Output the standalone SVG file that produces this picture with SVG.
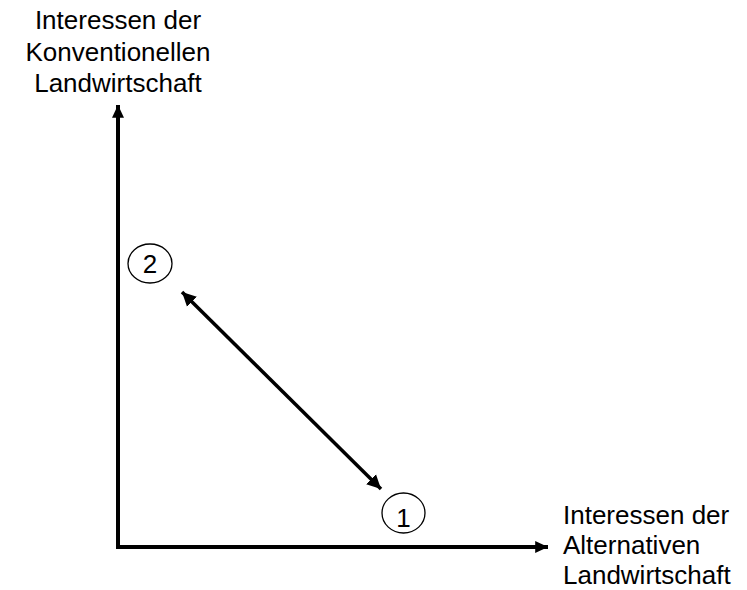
<svg xmlns="http://www.w3.org/2000/svg" width="747" height="590" viewBox="0 0 747 590">
<style>
text{font-family:"Liberation Sans",Arial,sans-serif;font-size:26px;fill:#000}
.ax{stroke:#000;stroke-width:4;fill:none}
.dbl{stroke:#000;stroke-width:3.5;fill:none}
.c{fill:#fff;stroke:#000;stroke-width:1.3}
</style>
<defs>
<marker id="ah" markerWidth="4" markerHeight="4" refX="3.2" refY="2" orient="auto" markerUnits="strokeWidth" viewBox="0 0 4 4">
<path d="M0,0.5 L3.2,2 L0,3.5 Z" fill="#000"/>
</marker>
<marker id="ah2" markerWidth="5" markerHeight="5" refX="4" refY="2.5" orient="auto-start-reverse" markerUnits="strokeWidth" viewBox="0 0 5 5">
<path d="M0,0.5 L4,2.5 L0,4.5 Z" fill="#000"/>
</marker>
</defs>
<g id="connectors">
<path class="ax" d="M118,549 L118,105" marker-end="url(#ah)"/>
<path class="ax" d="M116,547 L548,547" marker-end="url(#ah)"/>
<path class="dbl" d="M182,292 L381,489" marker-start="url(#ah2)" marker-end="url(#ah2)"/>
</g>
<g id="label-y">
<text x="118" y="29" text-anchor="middle">Interessen der</text>
<text x="118" y="61" text-anchor="middle">Konventionellen</text>
<text x="118" y="92" text-anchor="middle">Landwirtschaft</text>
</g>
<g id="label-x">
<text x="563" y="524">Interessen der</text>
<text x="563" y="554">Alternativen</text>
<text x="563" y="584">Landwirtschaft</text>
</g>
<g id="node2">
<ellipse class="c" cx="150" cy="263.5" rx="22" ry="19.5"/>
<text x="150" y="273" text-anchor="middle">2</text>
</g>
<g id="node1">
<ellipse class="c" cx="403.5" cy="513" rx="21.5" ry="20"/>
<text x="403.5" y="527" text-anchor="middle">1</text>
</g>
</svg>
